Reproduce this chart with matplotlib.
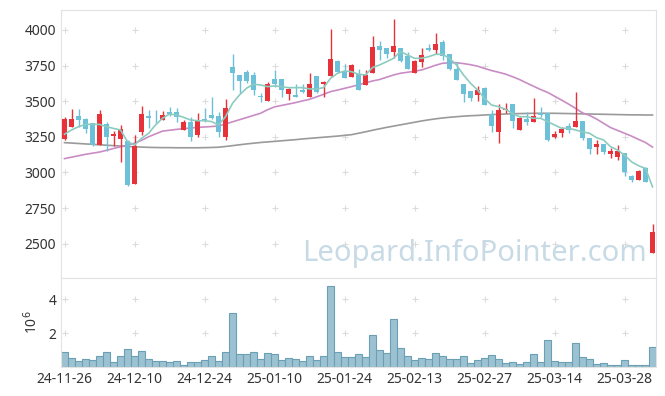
import numpy as np
import matplotlib
matplotlib.use('Agg')
import matplotlib.pyplot as plt

plt.rcParams['font.family'] = ['Noto Sans', 'DejaVu Sans']

#===== data
tick_labels = ['24-11-26', '24-12-10', '24-12-24', '25-01-10', '25-01-24',
               '25-02-13', '25-02-27', '25-03-14', '25-03-28']

opens = [3233, 3321, 3396, 3375, 3347, 3195, 3340, 3258, 3237, 3219,
         2917, 3286, 3396, 3389, 3368, 3424, 3424, 3298, 3354, 3265,
         3373, 3405, 3396, 3251, 3738, 3684, 3705, 3684, 3537, 3502,
         3656, 3656, 3549, 3544, 3581, 3532, 3677, 3623, 3677, 3782,
         3712, 3672, 3691, 3616, 3700, 3888, 3874, 3848, 3874, 3820,
         3698, 3777, 3876, 3859, 3918, 3829, 3726, 3621, 3572, 3544,
         3590, 3410, 3286, 3438, 3480, 3298, 3375, 3354, 3415, 3420,
         3251, 3279, 3326, 3321, 3363, 3239, 3178, 3199, 3131, 3110,
         3134, 2977, 2944, 3028, 2432]
highs = [3391, 3445, 3445, 3384, 3347, 3440, 3356, 3291, 3333, 3228,
         3263, 3466, 3438, 3438, 3431, 3461, 3450, 3368, 3387, 3419,
         3450, 3532, 3426, 3518, 3832, 3684, 3719, 3707, 3556, 3637,
         3719, 3656, 3595, 3619, 3619, 3696, 3677, 3644, 4007, 3789,
         3759, 3759, 3726, 3719, 3958, 3923, 3874, 4077, 3874, 3848,
         3789, 3871, 3904, 3977, 3927, 3829, 3773, 3621, 3572, 3609,
         3602, 3438, 3480, 3485, 3480, 3391, 3426, 3520, 3457, 3420,
         3293, 3321, 3345, 3565, 3363, 3239, 3230, 3199, 3169, 3192,
         3134, 2982, 3014, 3038, 2636]
lows = [3228, 3318, 3321, 3274, 3188, 3195, 3149, 3188, 3075, 2903,
        2917, 3263, 3309, 3347, 3368, 3396, 3357, 3298, 3218, 3251,
        3357, 3375, 3251, 3228, 3579, 3556, 3626, 3544, 3497, 3502,
        3602, 3532, 3509, 3532, 3556, 3532, 3556, 3532, 3677, 3700,
        3661, 3672, 3579, 3616, 3700, 3789, 3801, 3801, 3777, 3724,
        3698, 3742, 3850, 3829, 3789, 3720, 3649, 3492, 3502, 3502,
        3473, 3286, 3204, 3415, 3314, 3298, 3331, 3354, 3387, 3221,
        3240, 3247, 3275, 3321, 3230, 3127, 3127, 3127, 3099, 3087,
        2977, 2930, 2944, 2935, 2432]
closes = [3375, 3375, 3368, 3307, 3195, 3410, 3249, 3270, 3305, 2912,
          3188, 3410, 3384, 3386, 3403, 3413, 3392, 3354, 3251, 3368,
          3370, 3382, 3286, 3452, 3700, 3644, 3644, 3579, 3528, 3621,
          3623, 3581, 3586, 3532, 3567, 3619, 3567, 3635, 3798, 3707,
          3661, 3754, 3579, 3684, 3880, 3859, 3834, 3888, 3780, 3724,
          3782, 3825, 3862, 3904, 3820, 3724, 3649, 3549, 3525, 3579,
          3473, 3329, 3438, 3447, 3363, 3384, 3354, 3396, 3405, 3228,
          3270, 3303, 3298, 3363, 3240, 3164, 3199, 3145, 3152, 3152,
          3005, 2944, 3010, 2935, 2580]

ma5 = [3268, 3298, 3321, 3337, 3337, 3337, 3321, 3309, 3298, 3216,
       3192, 3239, 3274, 3333, 3380, 3410, 3403, 3387, 3368, 3363,
       3363, 3357, 3333, 3391, 3485, 3544, 3591, 3619, 3614, 3602,
       3607, 3602, 3595, 3595, 3595, 3586, 3586, 3595, 3660, 3696,
       3712, 3707, 3689, 3684, 3736, 3754, 3777, 3801, 3848, 3824,
       3801, 3801, 3812, 3829, 3829, 3801, 3754, 3684, 3626, 3579,
       3520, 3473, 3462, 3443, 3415, 3391, 3391, 3380, 3380, 3357,
       3333, 3310, 3310, 3298, 3285, 3275, 3244, 3228, 3181, 3157,
       3122, 3075, 3047, 3028, 2899]
ma20 = [3097, 3107, 3117, 3127, 3135, 3143, 3155, 3168, 3180, 3192,
        3205, 3225, 3250, 3270, 3290, 3296, 3302, 3307, 3312, 3316,
        3319, 3322, 3326, 3340, 3355, 3370, 3385, 3400, 3415, 3440,
        3460, 3470, 3480, 3490, 3502, 3513, 3530, 3548, 3567, 3578,
        3590, 3602, 3615, 3628, 3642, 3652, 3668, 3684, 3696, 3703,
        3710, 3719, 3735, 3752, 3766, 3770, 3770, 3764, 3756, 3746,
        3730, 3715, 3703, 3690, 3672, 3652, 3628, 3605, 3582, 3562,
        3535, 3508, 3480, 3450, 3418, 3400, 3375, 3345, 3315, 3295,
        3275, 3255, 3232, 3210, 3178]
ma60 = [3209, 3206, 3203, 3200, 3197, 3194, 3191, 3188, 3185, 3182,
        3180, 3178, 3176, 3175, 3174, 3174, 3173, 3173, 3173, 3173,
        3174, 3175, 3177, 3182, 3188, 3194, 3200, 3205, 3210, 3214,
        3218, 3222, 3226, 3230, 3235, 3239, 3243, 3247, 3251, 3255,
        3260, 3265, 3275, 3285, 3296, 3306, 3316, 3325, 3334, 3343,
        3352, 3361, 3369, 3376, 3382, 3387, 3391, 3395, 3398, 3400,
        3403, 3406, 3408, 3410, 3412, 3413, 3414, 3415, 3415, 3415,
        3415, 3414, 3413, 3412, 3411, 3410, 3409, 3408, 3407, 3406,
        3405, 3404, 3404, 3403, 3403]

volume = [0.88, 0.53, 0.35, 0.47, 0.41, 0.65, 0.88, 0.29, 0.65, 1.06,
          0.65, 0.94, 0.47, 0.35, 0.35, 0.29, 0.35, 0.12, 0.29, 0.29,
          0.41, 0.65, 0.35, 0.88, 3.18, 0.76, 0.76, 0.88, 0.47, 0.82,
          0.76, 0.41, 0.53, 0.47, 0.35, 0.65, 0.41, 0.65, 4.76, 0.88,
          0.59, 0.59, 0.76, 0.59, 1.88, 1.00, 0.82, 2.82, 1.12, 0.65,
          0.41, 0.53, 0.47, 0.82, 0.65, 0.47, 0.47, 0.65, 0.24, 0.41,
          0.53, 0.71, 0.47, 0.24, 0.29, 0.18, 0.29, 0.76, 0.29, 1.59,
          0.35, 0.29, 0.29, 1.41, 0.59, 0.47, 0.18, 0.24, 0.12, 0.12,
          0.41, 0.12, 0.12, 0.12, 1.18]

#===== setup
o = np.array(opens, float)
h = np.array(highs, float)
l = np.array(lows, float)
c = np.array(closes, float)
x = np.arange(len(c))
up = c >= o
col = np.where(up, '#e8323a', '#6cc0d8')

W, H = 665, 396
fig = plt.figure(figsize=(W / 100, H / 100), dpi=100)
ax = fig.add_axes([61 / W, (H - 278) / H, 595 / W, 268 / H])
axv = fig.add_axes([61 / W, (H - 367) / H, 595 / W, 89 / H], sharex=ax)

spine_c = '#e2e2e2'
txt_c = '#333333'
for a in (ax, axv):
    for s in a.spines.values():
        s.set_color(spine_c)
    a.tick_params(length=0, colors=txt_c, labelsize=10)

#===== price panel
ax.vlines(x, l, h, color=col, lw=1, zorder=3)
body = np.maximum(np.abs(c - o), 4)
ax.bar(x, body, bottom=np.minimum(o, c), width=0.7, color=col, zorder=4)
ax.plot(x, ma60, color='#9a9a9a', lw=1.2, zorder=2)
ax.plot(x, ma20, color='#c98cc4', lw=1.2, zorder=2)
ax.plot(x, ma5, color='#8ccbc0', lw=1.2, zorder=5)

ax.set_xlim(-0.5, len(c) - 0.5)
ax.set_ylim(2259, 4140)
ax.set_yticks(np.arange(2500, 4001, 250))
ax.tick_params(axis='x', labelbottom=False)
ax.set_xticks(np.arange(0, len(c), 10))

ax.text(0.695, 0.09, 'Leopard.InfoPointer.com', transform=ax.transAxes,
        ha='center', va='center', fontsize=21, color='#c7dae5', zorder=1)

# small '+' marks at grid crossings
for a, yt in ((ax, ax.get_yticks()), (axv, [2, 4])):
    gx, gy = np.meshgrid(a.get_xticks(), yt)
    a.scatter(gx.ravel(), gy.ravel(), marker='+', s=18, color='#dcdcdc',
              lw=0.8, zorder=0)

#===== volume panel
axv.bar(x, volume, width=1.0, color='#9cc2d2', edgecolor='#6b9fb4',
        lw=0.8, zorder=2)
axv.set_ylim(0, 5.24)
axv.set_yticks([2, 4])
axv.set_xticks(np.arange(0, len(c), 10))
axv.set_xticklabels(tick_labels)
axv.set_ylabel('10$^6$', color=txt_c, fontsize=10, labelpad=5)

fig.savefig('out.png', dpi=100)
